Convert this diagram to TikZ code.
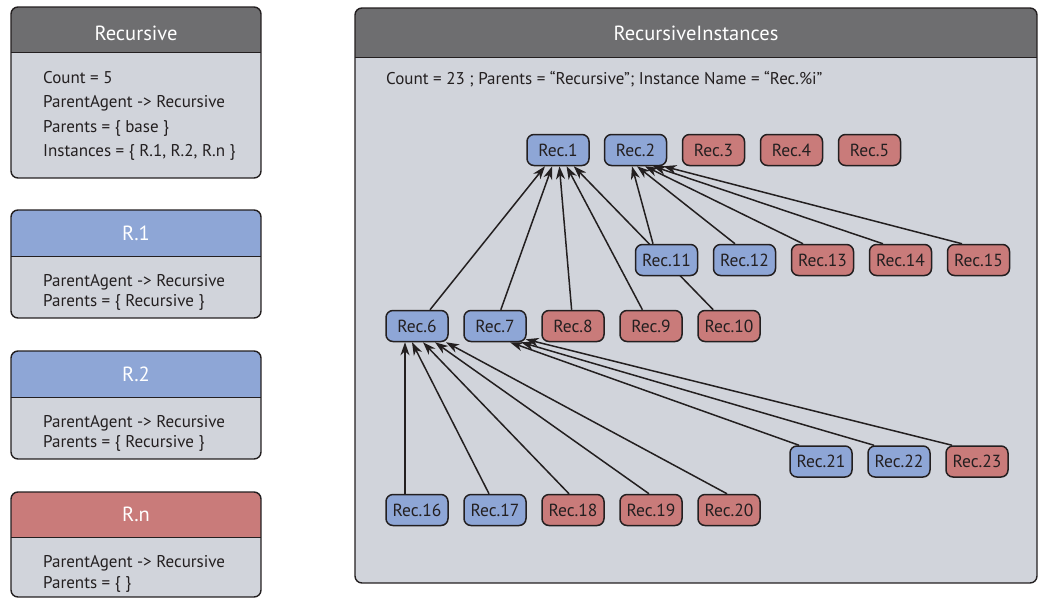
\documentclass[tikz,border=0pt]{standalone}
\usepackage{fontspec}
\setmainfont{PT Sans}
\usetikzlibrary{arrows.meta}
\pgfdeclarelayer{bg}
\pgfdeclarelayer{edges}
\pgfsetlayers{bg,edges,main}
\definecolor{hdr}{RGB}{110,110,112}
\definecolor{panel}{RGB}{209,212,219}
\definecolor{blu}{RGB}{142,166,214}
\definecolor{rd}{RGB}{201,123,122}
\definecolor{ink}{RGB}{35,31,32}

% panel with a coloured header: left, top, header bottom, right, bottom, header colour
\newcommand\headedpanel[6]{%
  \begin{scope}
    \clip[rounded corners=7pt] (#1,#2) rectangle (#4,#5);
    \fill[panel] (#1,#2) rectangle (#4,#5);
    \fill[#6] (#1,#2) rectangle (#4,#3);
    \draw[ink,line width=0.9pt] (#1,#3) -- (#4,#3);
  \end{scope}
  \draw[ink,line width=1.4pt,rounded corners=7pt] (#1,#2) rectangle (#4,#5);
}

\begin{document}
\begin{tikzpicture}[x=1pt,y=-1pt,
  inst/.style={draw=ink,line width=1.5pt,rounded corners=7pt,minimum width=62pt,
    minimum height=31pt,inner sep=0pt,font=\fontsize{17.5}{20}\selectfont,text=ink},
  bluinst/.style={inst,fill=blu},
  redinst/.style={inst,fill=rd},
  link/.style={draw=ink,line width=1.5pt,-{Stealth[length=13pt,width=9pt,inset=4pt]}},
  body/.style={font=\fontsize{17}{20}\selectfont,text=ink,anchor=west,inner sep=0pt},
  title/.style={font=\fontsize{20.5}{24}\selectfont,text=white,inner sep=0pt}
]
\useasboundingbox (0,0) rectangle (1039,598);

\begin{pgfonlayer}{bg}
  \headedpanel{11}{7}{52}{261}{178}{hdr}
  \headedpanel{11}{210}{256}{261}{318}{blu}
  \headedpanel{11}{351}{397}{261}{459}{blu}
  \headedpanel{11}{492}{537}{261}{597}{rd}
  \headedpanel{355}{8}{57}{1037}{583}{hdr}
\end{pgfonlayer}

% agent panels
\node[title] (tRec) at (136,33) {Recursive};
\node[body] (lRecA) at (43,78) {Count = 5};
\node[body] (lRecB) at (43,103) {ParentAgent -> Recursive};
\node[body] (lRecC) at (43,128) {Parents = \{ base \}};
\node[body] (lRecD) at (43,152) {Instances = \{ R.1, R.2, R.n \}};

\node[title] (tR1) at (136,233) {R.1};
\node[body] (lR1A) at (43,282) {ParentAgent -> Recursive};
\node[body] (lR1B) at (43,302) {Parents = \{ Recursive \}};

\node[title] (tR2) at (136,374) {R.2};
\node[body] (lR2A) at (43,423) {ParentAgent -> Recursive};
\node[body] (lR2B) at (43,443) {Parents = \{ Recursive \}};

\node[title] (tRn) at (136,514.5) {R.n};
\node[body] (lRnA) at (43,563) {ParentAgent -> Recursive};
\node[body] (lRnB) at (43,584) {Parents = \{ \}};

\node[title] (tInst) at (696,33) {RecursiveInstances};
\node[body] (lInst) at (386,79) {Count = 23 ; Parents = “Recursive”; Instance Name = “Rec.\%i”};

% instances
\node[bluinst] (r1) at (558,150) {Rec.1};
\node[bluinst] (r2) at (635.5,150) {Rec.2};
\node[redinst] (r3) at (713.5,150) {Rec.3};
\node[redinst] (r4) at (791.5,150) {Rec.4};
\node[redinst] (r5) at (869.5,150) {Rec.5};

\node[bluinst] (r11) at (666.5,260) {Rec.11};
\node[bluinst] (r12) at (744.5,260) {Rec.12};
\node[redinst] (r13) at (822.5,260) {Rec.13};
\node[redinst] (r14) at (900.5,260) {Rec.14};
\node[redinst] (r15) at (978.5,260) {Rec.15};

\node[bluinst] (r6) at (417,326) {Rec.6};
\node[bluinst] (r7) at (495,326) {Rec.7};
\node[redinst] (r8) at (573,326) {Rec.8};
\node[redinst] (r9) at (651,326) {Rec.9};
\node[redinst] (r10) at (729,326) {Rec.10};

\node[bluinst] (r21) at (821,461.5) {Rec.21};
\node[bluinst] (r22) at (899,461.5) {Rec.22};
\node[redinst] (r23) at (977,461.5) {Rec.23};

\node[bluinst] (r16) at (417,510) {Rec.16};
\node[bluinst] (r17) at (495,510) {Rec.17};
\node[redinst] (r18) at (573,510) {Rec.18};
\node[redinst] (r19) at (651,510) {Rec.19};
\node[redinst] (r20) at (729,510) {Rec.20};

% parent links, drawn beneath the instances
\begin{pgfonlayer}{edges}
  \draw[link] (r6) -- (r1);
  \draw[link] (r7) -- (r1);
  \draw[link] (r8) -- (r1);
  \draw[link] (r9) -- (r1);
  \draw[link] (r10) -- (r1);

  \draw[link] ([xshift=-13.5pt]r11.north) -- ([xshift=-3.5pt]r2.south);
  \draw[link] ([xshift=-9.5pt]r12.north) -- ([xshift=1.5pt]r2.south);
  \draw[link] ([xshift=-19.5pt]r13.north) -- ([xshift=9.5pt]r2.south);
  \draw[link] ([xshift=-17.5pt]r14.north) -- ([xshift=17.5pt]r2.south);
  \draw[link] ([xshift=-16.5pt]r15.north) -- ([xshift=28pt]r2.south);

  \draw[link] ([xshift=-12pt]r16.north) -- ([xshift=-12pt]r6.south);
  \draw[link] ([xshift=-6pt]r17.north) -- ([xshift=-5pt]r6.south);
  \draw[link] ([xshift=-4pt]r18.north) -- ([xshift=6pt]r6.south);
  \draw[link] ([xshift=-2pt]r19.north) -- ([xshift=18pt]r6.south);
  \draw[link] ([xshift=-2pt]r20.north) -- ([xshift=29pt]r6.south);

  \draw[link] ([xshift=-22pt]r21.north) -- ([xshift=15pt]r7.south);
  \draw[link] ([xshift=-25pt]r22.north) -- ([xshift=26pt]r7.south);
  \draw[link] ([xshift=-25pt]r23.north) -- ([shift={(-1pt,3pt)}]r7.south east);
\end{pgfonlayer}
\end{tikzpicture}
\end{document}
